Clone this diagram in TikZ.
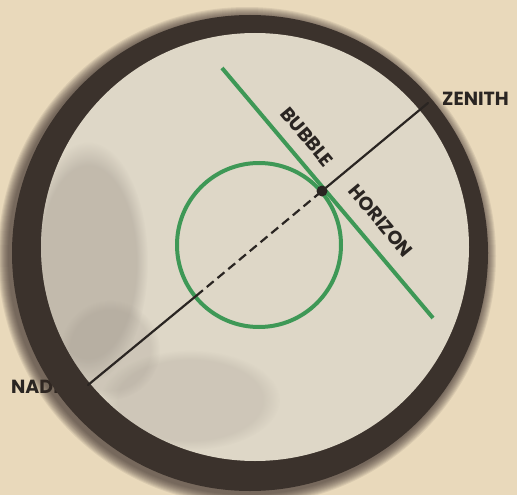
\documentclass[tikz,border=0pt]{standalone}
\usepackage{fontspec}
\setmainfont{Poppins}
\usetikzlibrary{fadings}
\definecolor{bgc}{HTML}{E9D9BB}
\definecolor{ringc}{HTML}{3B322C}
\definecolor{discc}{HTML}{DED7C7}
\definecolor{shadc}{HTML}{8E857C}
\definecolor{greenc}{RGB}{62,152,86}
\definecolor{inkc}{HTML}{2A2522}
\tikzset{
  lbl/.style={font=\fontsize{19}{19}\selectfont\bfseries, text=inkc, inner sep=0pt},
  axis/.style={draw=inkc, line width=2.2pt, line cap=round},
  greenline/.style={draw=greenc, line width=4pt},
}
\begin{document}
\begin{tikzpicture}[x=1pt,y=-1pt]
\useasboundingbox (0,0) rectangle (517,495);
\fill[bgc] (0,0) rectangle (517,495);
% labels outside ring
\node[lbl, anchor=base west] (nadir) at (11,393) {NADIR};
\node[lbl, anchor=base west] (zenith) at (442,106) {ZENITH};
% ring with soft outer edge
\foreach \r in {249,248,...,239}{
  \fill[ringc, opacity=0.09] (247,256) circle (\r);
}
\fill[ringc] (250,253) circle (238);
% inner disc
\fill[discc] (255,247) circle (214);
\begin{scope}
  \clip (255,247) circle (214);
  \fill[shadc, opacity=0.35, path fading=circle with fuzzy edge 20 percent] (88,262) ellipse (60 and 120);
  \fill[shadc, opacity=0.2, path fading=circle with fuzzy edge 20 percent] (190,400) ellipse (90 and 50);
  \fill[shadc, opacity=0.2, path fading=circle with fuzzy edge 20 percent] (110,350) ellipse (50 and 50);
\end{scope}
% geometry
\coordinate (N) at (88,385);
\coordinate (T) at (322,191);
\coordinate (Z) at (428,103);
\coordinate (C) at (259,245);
\coordinate (Q) at (196,296);
\coordinate (G1) at (222,68);
\coordinate (G2) at (433,318);
\draw[greenline] (C) circle (82);
\draw[greenline] (G1) -- (G2);
\draw[axis] (N) -- (Q);
\draw[axis, line cap=butt, dash pattern=on 9pt off 5pt] (Q) -- (T);
\draw[axis] (T) -- (Z);
\fill[inkc] (T) circle (5.5);
\node[lbl, rotate=-50] (bubble) at (307,137) {BUBBLE};
\node[lbl, rotate=-50] (horizon) at (381,221) {HORIZON};
\end{tikzpicture}
\end{document}
